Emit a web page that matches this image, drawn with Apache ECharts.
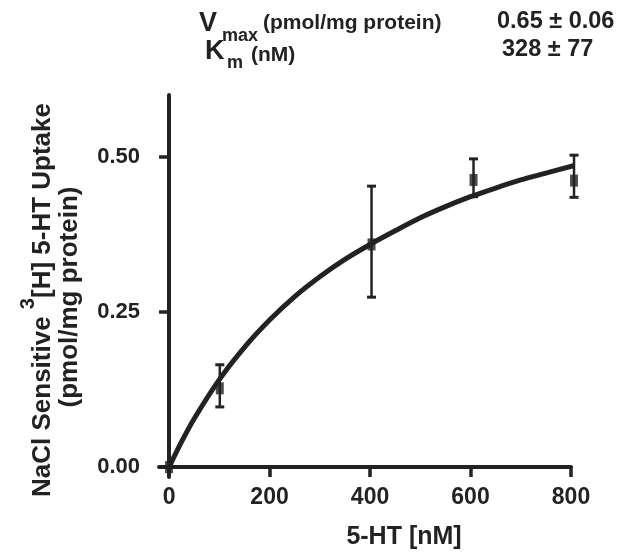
<!DOCTYPE html>
<html>
<head>
<meta charset="utf-8">
<script src="https://cdn.jsdelivr.net/npm/echarts@6/dist/echarts.min.js"></script>
<style>html,body{margin:0;padding:0;background:#fff;}#c{width:624px;height:560px;}</style>
</head>
<body>
<div id="c"></div>
<script>
// ---- data ----
const xTicks = [0, 200, 400, 600, 800];
const yTicks = [0, 0.25, 0.5];
// measured points (5-HT nM, uptake) with error bar ends
const pointX = [0, 101, 403, 606, 806];
const pointY = [0, 0.127, 0.359, 0.463, 0.462];
const errLow = [0, 0.097, 0.274, 0.436, 0.435];
const errHigh = [0, 0.165, 0.453, 0.497, 0.503];
// fitted curve
const curveX = [0, 25, 50, 100, 150, 200, 250, 300, 350, 400, 450, 500, 550, 600, 650, 700, 750, 805];
const curveY = [0, 0.041, 0.078, 0.141, 0.193, 0.237, 0.275, 0.307, 0.335, 0.359, 0.381, 0.402, 0.420, 0.436, 0.450, 0.463, 0.474, 0.486];
// annotations
const vmaxText = '0.65 \u00b1 0.06';
const kmText = '328 \u00b1 77';

const INK = '#222222';
const FONT = '"Liberation Sans", Arial, Helvetica, sans-serif';

const chart = echarts.init(document.getElementById('c'), null, {renderer: 'canvas'});

const curveData = curveX.map((x, i) => [x, curveY[i]]);
const pointData = pointX.map((x, i) => [x, pointY[i]]);
const errData = pointX.map((x, i) => [x, errLow[i], errHigh[i]]).filter(d => d[2] > d[1]);

function txt(text, x, y, size, extra) {
  return {
    type: 'text', x: x, y: y,
    style: Object.assign({
      text: text, fill: INK, font: 'bold ' + size + 'px ' + FONT,
      align: 'left', verticalAlign: 'middle'
    }, extra || {})
  };
}

const option = {
  backgroundColor: '#fff',
  animation: false,
  grid: {left: 159, right: 53, top: 95, bottom: 83, containLabel: false, outerBoundsMode: 'none'},
  xAxis: {
    type: 'value', min: -20, max: 800,
    axisLine: {show: true, onZero: true, lineStyle: {color: INK, width: 4}},
    axisTick: {show: true, length: 10, customValues: xTicks, lineStyle: {color: INK, width: 3.5}},
    axisLabel: {customValues: xTicks, formatter: v => String(v), margin: 9,
      color: INK, fontFamily: FONT, fontWeight: 'bold', fontSize: 23},
    splitLine: {show: false}
  },
  yAxis: {
    type: 'value', min: -0.016, max: 0.6,
    axisLine: {show: true, onZero: true, lineStyle: {color: INK, width: 4}},
    axisTick: {show: true, length: 10, customValues: yTicks, lineStyle: {color: INK, width: 3.5}},
    axisLabel: {customValues: yTicks, formatter: v => v.toFixed(2), margin: 19,
      color: INK, fontFamily: FONT, fontWeight: 'bold', fontSize: 22},
    splitLine: {show: false}
  },
  series: [
    {
      type: 'line', data: curveData, smooth: 0.3, showSymbol: false, clip: false,
      lineStyle: {color: INK, width: 5}, z: 3
    },
    {
      type: 'custom', data: errData, clip: false, z: 4,
      renderItem: function (params, api) {
        const x = api.value(0);
        const lo = api.coord([x, api.value(1)]);
        const hi = api.coord([x, api.value(2)]);
        const cw = 4.5;
        const s = {stroke: INK, lineWidth: 2.5};
        const c = {stroke: INK, lineWidth: 3};
        return {type: 'group', children: [
          {type: 'line', shape: {x1: hi[0], y1: hi[1], x2: lo[0], y2: lo[1]}, style: s},
          {type: 'line', shape: {x1: hi[0] - cw, y1: hi[1], x2: hi[0] + cw, y2: hi[1]}, style: c},
          {type: 'line', shape: {x1: lo[0] - cw, y1: lo[1], x2: lo[0] + cw, y2: lo[1]}, style: c}
        ]};
      }
    },
    {
      type: 'scatter', data: pointData, symbol: 'rect', symbolSize: [8, 12], clip: false,
      itemStyle: {color: INK}, z: 5
    }
  ],
  graphic: [
    txt('V', 199, 24, 27),
    txt('max', 222, 36, 18),
    txt('(pmol/mg protein)', 263, 23, 21),
    txt('K', 205, 52, 27),
    txt('m', 227, 63, 18),
    txt('(nM)', 251, 55, 21),
    txt(vmaxText, 497, 22, 23.5),
    txt(kmText, 502, 50, 23.5),
    txt('5-HT [nM]', 404, 537, 25, {align: 'center'}),
    {
      type: 'text', x: 37, y: 300, rotation: Math.PI / 2,
      style: {
        text: '{a|NaCl Sensitive }{s|3}{a|[H] 5-HT Uptake}',
        align: 'center', verticalAlign: 'middle', fill: INK,
        rich: {
          a: {fill: INK, fontFamily: FONT, fontWeight: 'bold', fontSize: 26, verticalAlign: 'bottom'},
          s: {fill: INK, fontFamily: FONT, fontWeight: 'bold', fontSize: 20, verticalAlign: 'bottom', padding: [0, 0, 18, 0]}
        }
      }
    },
    {
      type: 'text', x: 70, y: 297, rotation: Math.PI / 2,
      style: {text: '(pmol/mg protein)', fill: INK, font: 'bold 26px ' + FONT, align: 'center', verticalAlign: 'middle'}
    }
  ]
};
chart.setOption(option);
</script>
</body>
</html>
